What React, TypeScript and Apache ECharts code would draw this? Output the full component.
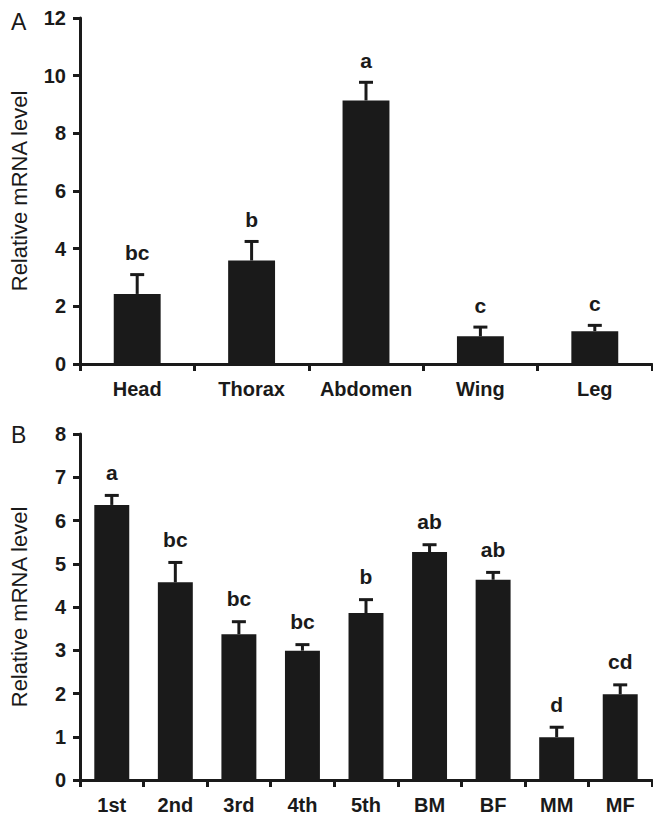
import React, { useEffect, useRef } from "react";
import * as echarts from "echarts";

const tissues = ["Head", "Thorax", "Abdomen", "Wing", "Leg"];
const tissueMeans = [2.43, 3.59, 9.14, 0.96, 1.14];
const tissueSems = [0.67, 0.66, 0.63, 0.32, 0.2];
const tissueLetters = ["bc", "b", "a", "c", "c"];

const stages = ["1st", "2nd", "3rd", "4th", "5th", "BM", "BF", "MM", "MF"];
const stageMeans = [6.36, 4.57, 3.37, 2.99, 3.86, 5.27, 4.63, 0.99, 1.98];
const stageSems = [0.22, 0.46, 0.29, 0.14, 0.31, 0.17, 0.17, 0.23, 0.22];
const stageLetters = ["a", "bc", "bc", "bc", "b", "ab", "ab", "d", "cd"];

const topTicks = { min: 0, max: 12, interval: 2 };
const bottomTicks = { min: 0, max: 8, interval: 1 };

const INK = "#1a1a1a";
const FONT = "'Liberation Sans', Arial, Helvetica, sans-serif";

function errSeries(axisIndex: number, means: number[], sems: number[], letters: string[], offset: number) {
  return {
    type: "custom",
    xAxisIndex: axisIndex,
    yAxisIndex: axisIndex,
    z: 5,
    data: means.map((m, i) => [i, m, m + sems[i]]),
    renderItem: (params: any, api: any) => {
      const x = api.value(0);
      const p0 = api.coord([x, api.value(1)]);
      const p1 = api.coord([x, api.value(2)]);
      return {
        type: "group",
        children: [
          { type: "line", shape: { x1: p0[0], y1: p0[1], x2: p1[0], y2: p1[1] }, style: { stroke: INK, lineWidth: 3 } },
          { type: "line", shape: { x1: p1[0] - 7, y1: p1[1], x2: p1[0] + 7, y2: p1[1] }, style: { stroke: INK, lineWidth: 3 } },
          {
            type: "text",
            x: p1[0],
            y: p1[1] - offset,
            style: {
              text: letters[params.dataIndex],
              fontSize: 21,
              fontWeight: "bold",
              fontFamily: FONT,
              fill: INK,
              align: "center",
              verticalAlign: "middle",
            },
          },
        ],
      };
    },
  };
}

export default function App() {
  const ref = useRef<HTMLDivElement>(null);
  useEffect(() => {
    if (!ref.current) return;
    const chart = echarts.init(ref.current, null, { renderer: "svg" });
    const xAxisBase = {
      type: "category",
      axisLine: { show: true, lineStyle: { color: INK, width: 3 } },
      axisTick: { show: true, length: 7, lineStyle: { color: INK, width: 3 } },
      axisLabel: { interval: 0, color: INK, fontSize: 20, fontWeight: "bold", fontFamily: FONT, margin: 15 },
      splitLine: { show: false },
    };
    const yAxisBase = {
      type: "value",
      axisLine: { show: true, lineStyle: { color: INK, width: 3 } },
      axisTick: { show: true, length: 7, lineStyle: { color: INK, width: 3 } },
      axisLabel: { color: INK, fontSize: 20, fontWeight: "bold", fontFamily: FONT, margin: 14 },
      splitLine: { show: false },
      name: "Relative mRNA level",
      nameLocation: "middle",
      nameRotate: 90,
      nameGap: 50,
      nameTextStyle: { color: INK, fontSize: 22, fontFamily: FONT },
    };
    chart.setOption({
      animation: false,
      backgroundColor: "#ffffff",
      grid: [
        { left: 80, width: 572, top: 18, height: 346 },
        { left: 80, width: 572, top: 434, height: 346 },
      ],
      xAxis: [
        { ...xAxisBase, gridIndex: 0, data: tissues },
        { ...xAxisBase, gridIndex: 1, data: stages },
      ],
      yAxis: [
        { ...yAxisBase, gridIndex: 0, ...topTicks },
        { ...yAxisBase, gridIndex: 1, ...bottomTicks },
      ],
      graphic: [
        { type: "text", left: 11, top: 10, style: { text: "A", fontSize: 23, fontFamily: FONT, fill: INK } },
        { type: "text", left: 11, top: 423, style: { text: "B", fontSize: 23, fontFamily: FONT, fill: INK } },
      ],
      series: [
        {
          type: "bar",
          xAxisIndex: 0,
          yAxisIndex: 0,
          data: tissueMeans,
          barWidth: "41%",
          itemStyle: { color: INK },
        },
        errSeries(0, tissueMeans, tissueSems, tissueLetters, 22),
        {
          type: "bar",
          xAxisIndex: 1,
          yAxisIndex: 1,
          data: stageMeans,
          barWidth: "55%",
          itemStyle: { color: INK },
        },
        errSeries(1, stageMeans, stageSems, stageLetters, 23),
      ],
    });
    return () => chart.dispose();
  }, []);
  return <div ref={ref} style={{ position: "absolute", left: 0, top: 0, width: 653, height: 819 }} />;
}
